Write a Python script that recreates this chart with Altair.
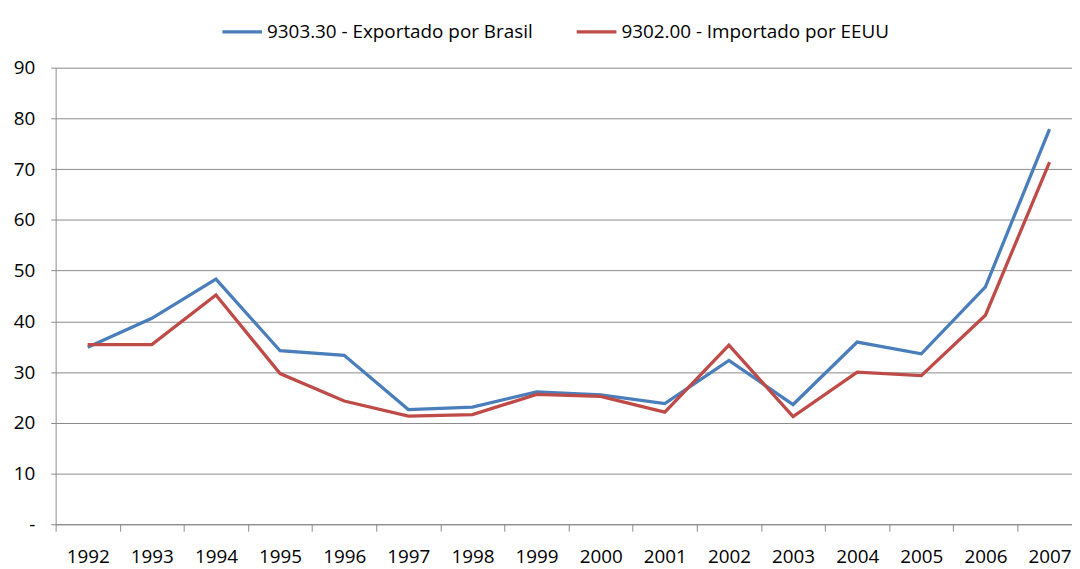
import altair as alt
import pandas as pd

years = list(range(1992, 2008))
brasil = [34.9, 40.6, 48.3, 34.2, 33.3, 22.6, 23.1, 26.1, 25.5, 23.8, 32.3, 23.6, 35.9, 33.6, 46.8, 77.9]
eeuu = [35.4, 35.4, 45.2, 29.7, 24.3, 21.3, 21.6, 25.6, 25.2, 22.1, 35.3, 21.2, 30.0, 29.3, 41.2, 71.4]
series_names = ["9303.30 - Exportado por Brasil", "9302.00 - Importado por EEUU"]
colors = ["#4A7EBB", "#BE4B48"]
y_ticks = list(range(0, 91, 10))
# category boundaries (ticks) and category centres (labels)
x_bounds = [y - 0.5 for y in years] + [years[-1] + 0.5]
x_values = sorted(x_bounds + years)

rows = []
for name, vals in zip(series_names, [brasil, eeuu]):
    for yr, v in zip(years, vals):
        rows.append({"year": yr, "value": v, "series": name})
df = pd.DataFrame(rows)

FONT = "Open Sans"
GRAY = "#8a8a8a"

chart = alt.Chart(df).mark_line(strokeWidth=3.3).encode(
    x=alt.X(
        "year:Q",
        scale=alt.Scale(domain=[1991.5, 2007.35], nice=False, zero=False),
        axis=alt.Axis(
            title=None, values=x_values,
            labelExpr="datum.value % 1 === 0 ? '' + datum.value : ''",
            labelAngle=0, tickSize=7, tickColor=GRAY,
            tickOpacity={"condition": {"test": "datum.value % 1 === 0", "value": 0}, "value": 1},
            domainColor=GRAY, labelPadding=17, labelFont=FONT, labelFontSize=19,
            labelColor="#000000", grid=False, labelOverlap=False, labelBound=False,
            labelFlush=False,
        ),
    ),
    y=alt.Y(
        "value:Q",
        scale=alt.Scale(domain=[0, 90], nice=False),
        axis=alt.Axis(
            title=None, values=y_ticks,
            labelExpr="datum.value == 0 ? '-' : datum.label",
            tickSize=5, tickColor=GRAY, domainColor=GRAY, gridColor=GRAY,
            labelPadding=16, labelFont=FONT, labelFontSize=19, labelColor="#000000",
        ),
    ),
    color=alt.Color(
        "series:N",
        scale=alt.Scale(domain=series_names, range=colors),
        legend=alt.Legend(
            title=None, orient="none", legendX=166, legendY=-58, direction="horizontal",
            symbolType="stroke", symbolSize=1600, symbolStrokeWidth=3.3,
            labelFont=FONT, labelFontSize=19, labelColor="#000000", labelLimit=0,
            columnPadding=37, labelOffset=3,
        ),
    ),
).properties(
    width=1024,
    height=460,
    autosize="none",
    padding={"left": 48, "top": 58, "right": 0, "bottom": 48},
).configure_view(stroke=None)

chart.save("out.html", embed_options={"renderer": "svg", "actions": False})
